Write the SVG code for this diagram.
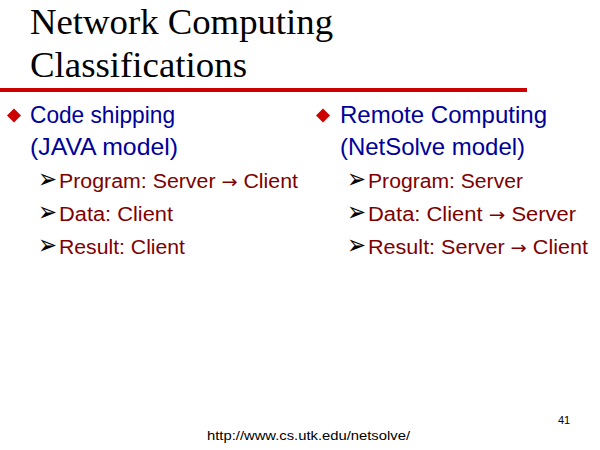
<svg xmlns="http://www.w3.org/2000/svg" width="600" height="450" viewBox="0 0 600 450">
<style>
.title{font-family:"Liberation Serif","Times New Roman",serif;font-size:35px;fill:#000}
.head{font-family:"Liberation Sans",Arial,sans-serif;font-size:24px;fill:#000099}
.sub{font-family:"Liberation Sans",Arial,sans-serif;font-size:20px;fill:#800000}
.to{font-family:"DejaVu Sans",sans-serif;font-size:18px}
.arr{font-family:"DejaVu Sans",sans-serif;font-size:27px;fill:#000}
.bul{fill:#cc0000}
.foot{font-family:"Liberation Sans",Arial,sans-serif;fill:#000}
</style>
<rect width="600" height="450" fill="#fff"/>
<g id="title">
<text class="title" x="30" y="34" textLength="303" lengthAdjust="spacingAndGlyphs">Network Computing</text>
<text class="title" x="30" y="77" textLength="217" lengthAdjust="spacingAndGlyphs">Classifications</text>
<rect x="0" y="88" width="527" height="4" fill="#cc0000"/>
</g>
<g id="left">
<path class="bul" d="M14 108.5 L21 115.5 L14 122.5 L7 115.5 Z"/>
<text class="head" x="30" y="123" textLength="145" lengthAdjust="spacingAndGlyphs">Code shipping</text>
<text class="head" x="30" y="155" textLength="148" lengthAdjust="spacingAndGlyphs">(JAVA model)</text>
<text class="arr" x="38" y="188" textLength="19" lengthAdjust="spacingAndGlyphs">➢</text>
<text class="sub" x="59" y="188" textLength="239" lengthAdjust="spacingAndGlyphs">Program: Server <tspan class="to">→</tspan> Client</text>
<text class="arr" x="38" y="221" textLength="19" lengthAdjust="spacingAndGlyphs">➢</text>
<text class="sub" x="59" y="221" textLength="114" lengthAdjust="spacingAndGlyphs">Data: Client</text>
<text class="arr" x="38" y="254" textLength="19" lengthAdjust="spacingAndGlyphs">➢</text>
<text class="sub" x="59" y="254" textLength="126" lengthAdjust="spacingAndGlyphs">Result: Client</text>
</g>
<g id="right">
<path class="bul" d="M323 108.5 L330 115.5 L323 122.5 L316 115.5 Z"/>
<text class="head" x="340" y="123" textLength="207" lengthAdjust="spacingAndGlyphs">Remote Computing</text>
<text class="head" x="340" y="155" textLength="185" lengthAdjust="spacingAndGlyphs">(NetSolve model)</text>
<text class="arr" x="347" y="188" textLength="19" lengthAdjust="spacingAndGlyphs">➢</text>
<text class="sub" x="368" y="188" textLength="155" lengthAdjust="spacingAndGlyphs">Program: Server</text>
<text class="arr" x="347" y="221" textLength="19" lengthAdjust="spacingAndGlyphs">➢</text>
<text class="sub" x="368" y="221" textLength="208" lengthAdjust="spacingAndGlyphs">Data: Client <tspan class="to">→</tspan> Server</text>
<text class="arr" x="347" y="254" textLength="19" lengthAdjust="spacingAndGlyphs">➢</text>
<text class="sub" x="368" y="254" textLength="220" lengthAdjust="spacingAndGlyphs">Result: Server <tspan class="to">→</tspan> Client</text>
</g>
<g id="footer">
<text class="foot" x="558" y="424" font-size="11">41</text>
<text class="foot" x="207" y="440" font-size="13" textLength="203" lengthAdjust="spacingAndGlyphs">http://www.cs.utk.edu/netsolve/</text>
</g>
</svg>
